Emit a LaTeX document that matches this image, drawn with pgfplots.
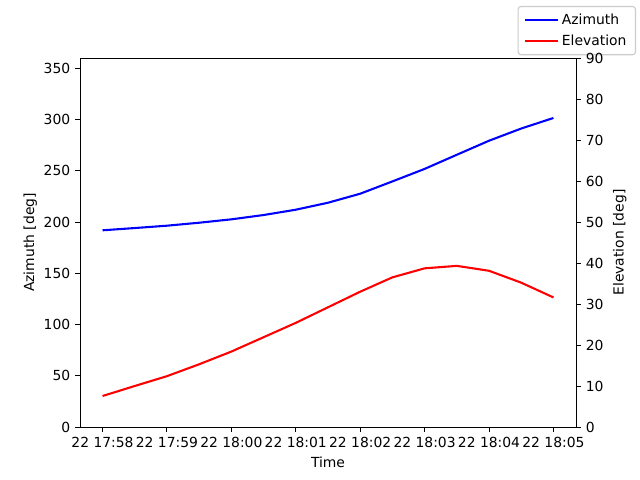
\documentclass[border=0pt]{standalone}
\usepackage{pgfplots}
\pgfplotsset{compat=1.18}
\usepackage{fontspec}
\setmainfont{DejaVu Sans}
\begin{document}
\begin{tikzpicture}[x=0.72pt,y=0.72pt]
\path[use as bounding box] (0,0) rectangle (640,480);
\pgfplotsset{every axis/.append style={
  scale only axis, width=357.12pt, height=265.68pt,
  at={(57.6pt,38.16pt)}, anchor=south west,
  tick align=outside, major tick length=3.5pt,
  tick style={black, line width=0.7pt},
  axis line style={line width=0.7pt},
  /pgf/number format/assume math mode=true,
  tick label style={font=\fontsize{10}{12}\selectfont},
  label style={font=\fontsize{10}{12}\selectfont},
  xmin=-0.35, xmax=7.35,
}}
\begin{axis}[
  ymin=0, ymax=360, ytick={0,50,...,350},
  xtick={0,1,2,3,4,5,6,7},
  xticklabels={22 17:58,22 17:59,22 18:00,22 18:01,22 18:02,22 18:03,22 18:04,22 18:05},
  xtick pos=left, ytick pos=left,
  xlabel={Time}, ylabel={Azimuth [deg]},
  ylabel style={yshift=-2pt},
  legend style={at={(1.121,1.141)}, anchor=north east, draw=black!20, line width=0.8pt, rounded corners=2pt,
    font=\fontsize{10}{12}\selectfont, inner xsep=4.5pt, inner ysep=3pt, row sep=2.5pt},
  legend cell align=left,
  legend image code/.code={\draw[#1] (0pt,0pt) -- (21.5pt,0pt); \path (0pt,0pt) -- (23.5pt,0pt);},
]
\addplot[blue, line width=1.5pt] coordinates {
(0,191.9) (0.5,194.1) (1,196.4) (1.5,199.3) (2,202.6) (2.5,206.8) (3,212.0) (3.5,218.8) (4,227.6) (4.5,239.6) (5,251.8) (5.5,265.6) (6,279.3) (6.5,291.2) (7,301.5)
};
\addlegendentry{Azimuth}
\addlegendimage{red, line width=1.5pt}
\addlegendentry{Elevation}
\end{axis}
\begin{axis}[
  ymin=0, ymax=90, ytick={0,10,...,90},
  axis x line=none,
  axis y line*=right,
  ylabel={Elevation [deg]},
]
\addplot[red, line width=1.5pt] coordinates {
(0,7.56) (0.5,10.0) (1,12.4) (1.5,15.3) (2,18.4) (2.5,21.9) (3,25.4) (3.5,29.2) (4,33.0) (4.5,36.5) (5,38.7) (5.5,39.3) (6,38.1) (6.5,35.2) (7,31.6)
};
\end{axis}
\end{tikzpicture}
\end{document}
